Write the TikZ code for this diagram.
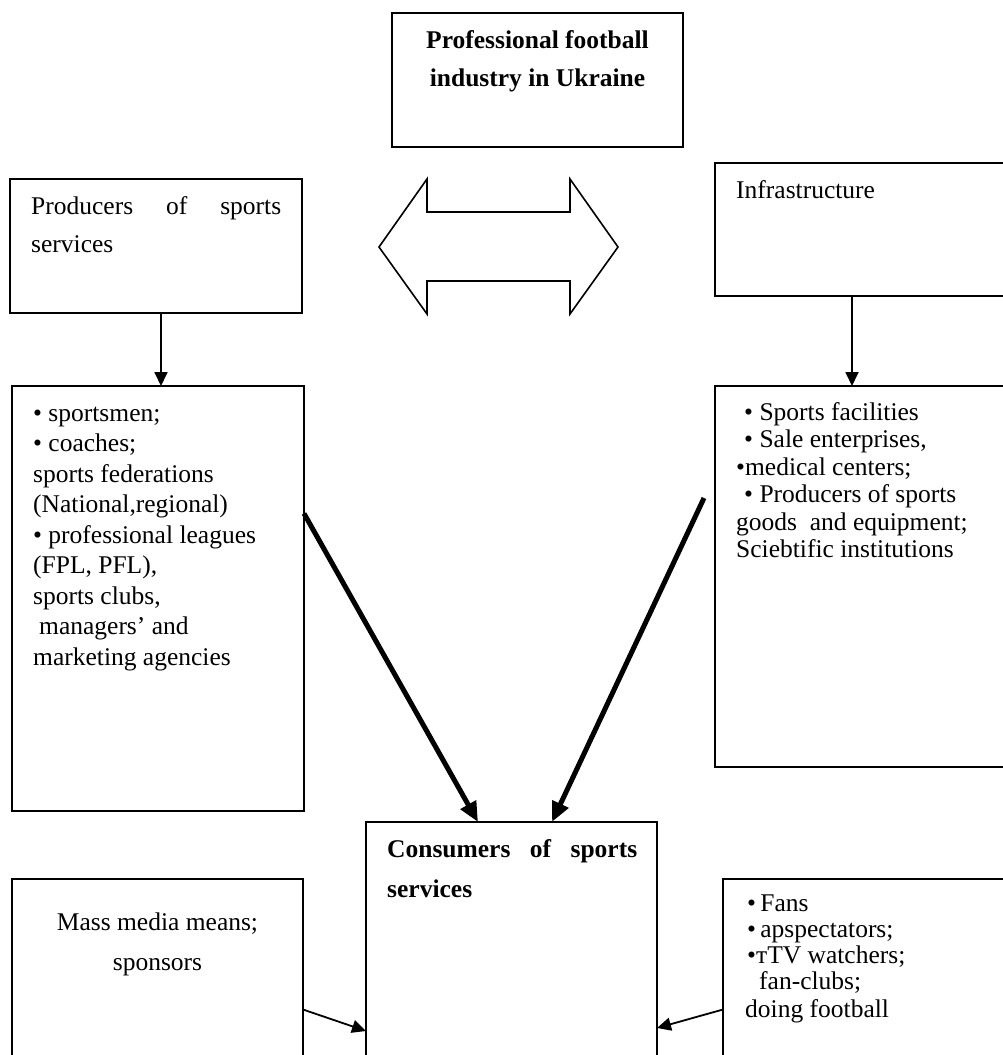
\documentclass[tikz,border=0pt]{standalone}
\usepackage{fontspec}
\setmainfont{Liberation Serif}
\usetikzlibrary{arrows.meta, positioning}

\begin{document}
\begin{tikzpicture}[x=1pt, y=-1pt,
    box/.style={draw, inner sep=0pt, outer sep=0pt, anchor=north west, line width=1.8pt},
    txt/.style={inner sep=0pt, anchor=base west, align=left, font=\fontsize{25.5}{30.5}\selectfont},
    thinarrow/.style={-{Triangle[length=14pt,width=13pt]}, line width=1.8pt},
    thickarrow/.style={-{Triangle[length=20pt,width=17pt]}, line width=5pt}]
    \useasboundingbox (0,0) rectangle (1003,1055);

    % Industry box (text nodes sit on the baseline of their last line)
    \node[box, line width=2.2pt, minimum width=291pt, minimum height=134pt] (industry) at (392,13) {};
    \node[txt, anchor=base, align=center, font=\bfseries\fontsize{25.5}{38}\selectfont] (industrytxt) at (537.5,86)
        {Professional football\\industry in Ukraine};

    % Producers and infrastructure
    \node[box, minimum width=292pt, minimum height=134pt] (prod) at (10,179) {};
    \node[txt, font=\fontsize{25.5}{38}\selectfont] (prodtxt) at (31,252)
        {\makebox[250pt][s]{Producers of sports}\\services};

    \node[box, minimum width=290pt, minimum height=133pt] (infra) at (715,163) {};
    \node[txt] (infratxt) at (736,198) {Infrastructure};

    % Double arrow between them
    \draw[line width=1.6pt, line join=miter] (379,247) -- (427,179) -- (427,212) -- (570,212) -- (570,179)
        -- (618,247) -- (570,314) -- (570,281) -- (427,281) -- (427,314) -- cycle;

    % Lists
    \node[box, line width=2.4pt, minimum width=292pt, minimum height=425pt] (prodlist) at (12,386) {};
    \node[txt] (prodlisttxt) at (33,665)
        {• sportsmen;\\
         • coaches;\\
         sports federations\\
         (National,regional)\\
         • professional leagues\\
         (FPL, PFL),\\
         sports clubs,\\
         \hspace*{6pt}managers’ and\\
         marketing agencies};

    \node[box, line width=2.6pt, minimum width=290pt, minimum height=381pt] (infralist) at (715,386) {};
    \node[txt, font=\fontsize{25.5}{27.5}\selectfont] (infralisttxt) at (736,557.5)
        {\hspace*{8pt}• Sports facilities\\
         \hspace*{8pt}• Sale enterprises,\\
         •medical centers;\\
         \hspace*{8pt}• Producers of sports\\
         goods\ \ and equipment;\\
         Sciebtific institutions};

    % Consumers and the boxes beside it
    \node[box, line width=1.5pt, minimum width=291pt, minimum height=250pt] (cons) at (366,822) {};
    \node[txt, font=\bfseries\fontsize{25.5}{40}\selectfont] (constxt) at (387,897)
        {\makebox[250pt][s]{Consumers of sports}\\services};

    \node[box, line width=1.5pt, minimum width=291pt, minimum height=190pt] (media) at (12,879) {};
    \node[txt, anchor=base, align=center, font=\fontsize{25.5}{40}\selectfont] (mediatxt) at (157.5,970)
        {Mass media means;\\sponsors};

    \node[box, line width=1.5pt, minimum width=285pt, minimum height=190pt] (fans) at (723,879) {};
    \node[txt, font=\fontsize{25.5}{26}\selectfont] (fanstxt) at (747,1017)
        {•\,Fans\\
         •\,apspectators;\\
         •тTV watchers;\\
         \hspace*{12pt}fan-clubs;\\[2pt]
         \hspace*{-2pt}doing football};

    % Arrows
    \coordinate (infraout) at (704,498);
    \draw[thinarrow] ([xshift=5pt]prod.south) -- ([xshift=5pt]prod.south |- prodlist.north);
    \draw[thinarrow] ([xshift=137pt]infra.south west) -- ([xshift=137pt]infralist.north west);
    \draw[thickarrow] ([yshift=85pt]prodlist.east) -- ([xshift=-33.5pt]cons.north);
    \draw[thickarrow] (infraout) -- ([xshift=40.5pt]cons.north);
    \draw[thinarrow] ([yshift=-35.5pt]media.east) -- ([yshift=-84pt]cons.west);
    \draw[thinarrow] ([yshift=-35.5pt]fans.west) -- ([yshift=-81pt]cons.east);
\end{tikzpicture}
\end{document}
